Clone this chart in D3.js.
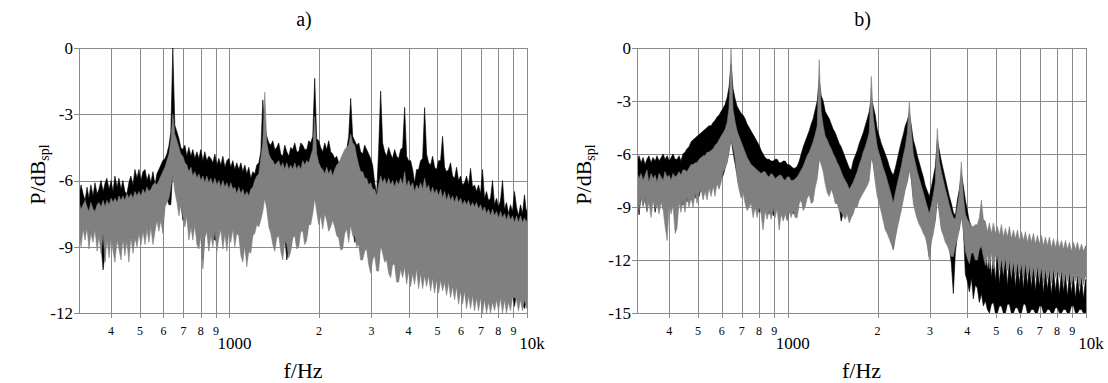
<!DOCTYPE html>
<html><head><meta charset="utf-8">
<script src="https://cdn.jsdelivr.net/npm/d3@7"></script>
<style>
body{margin:0;background:#fff}
svg{display:block}
text{font-family:"Liberation Serif","Times New Roman",serif;fill:#000}
</style>
</head><body>
<svg id="c" width="1108" height="383"></svg>
<script>
// ---- tick values / labels ----
const minorTicks = [400,500,600,700,800,900,2000,3000,4000,5000,6000,7000,8000,9000];
const minorLabels = ["4","5","6","7","8","9","2","3","4","5","6","7","8","9"];
const majorTicks = [1000,10000];
const majorLabels = ["1000","10k"];
const yTicksA = [0,-3,-6,-9,-12];
const yTicksB = [0,-3,-6,-9,-12,-15];

// ---- frequency samples (Hz), shared by both panels ----
const freqs = [
312,317,322,327,332,337,342,348,353,359,
364,370,376,382,387,394,400,406,412,419,
425,432,438,445,452,459,466,474,481,489,
496,504,512,520,528,536,544,553,562,570,
579,588,597,607,616,626,635,645,655,666,
676,686,697,708,719,730,742,753,765,777,
789,801,814,826,839,852,866,879,893,907,
921,935,950,965,980,995,1010,1026,1042,1058,
1075,1092,1109,1126,1143,1161,1179,1198,1216,1235,
1255,1274,1294,1314,1335,1356,1377,1398,1420,1442,
1464,1487,1510,1534,1558,1582,1607,1632,1657,1683,
1709,1736,1763,1790,1818,1847,1875,1905,1934,1964,
1995,2026,2058,2090,2122,2155,2189,2223,2258,2293,
2329,2365,2402,2439,2477,2516,2555,2595,2635,2676,
2718,2760,2803,2847,2891,2936,2982,3028,3076,3124,
3172,3222,3272,3323,3375,3427,3481,3535,3590,3646,
3703,3761,3819,3879,3939,4000,4063,4126,4190,4256,
4322,4389,4458,4527,4598,4669,4742,4816,4891,4967,
5045,5123,5203,5284,5366,5450,5535,5621,5709,5798,
5888,5980,6073,6168,6264,6361,6461,6561,6663,6767,
6873,6980,7088,7199,7311,7425,7541,7658,7777,7898,
8022,8147,8274,8403,8533,8666,8801,8938,9078,9219,
9363,9509,9657,9808,9960,10000
];

// ---- panel a: max / min envelope (dB) of the black and grey spectra ----
const blackMaxA = [
-6.7,-6.2,-6.6,-6.9,-6.3,-6.8,-6.2,-6.7,-6.1,-6.6,
-6.4,-6.0,-6.5,-6.1,-5.9,-6.4,-6.0,-6.5,-5.8,-6.3,
-5.9,-6.4,-6.0,-6.5,-6.6,-6.1,-5.8,-6.2,-5.5,-5.9,
-5.5,-6.0,-5.6,-5.5,-6.0,-5.7,-6.1,-5.6,-6.2,-5.7,
-5.5,-5.3,-5.1,-5.0,-4.8,-4.4,-3.8,0,-3.5,-3.8,
-4.1,-4.5,-4.6,-4.4,-4.9,-4.5,-4.9,-4.6,-5.0,-4.7,
-5.0,-4.6,-5.1,-4.7,-5.1,-4.9,-5.0,-5.2,-4.8,-5.3,
-5.0,-5.3,-4.9,-5.4,-5.1,-5.0,-5.4,-5.1,-5.5,-5.2,
-5.5,-5.2,-5.6,-5.3,-5.7,-5.4,-5.9,-5.6,-5.7,-5.3,
-5.2,-4.7,-2.35,-3.6,-4.0,-4.3,-4.4,-4.2,-4.6,-4.5,
-4.3,-4.8,-4.9,-4.4,-4.7,-4.9,-4.5,-4.6,-4.3,-4.7,
-4.7,-4.3,-4.4,-4.6,-4.6,-4.2,-4.3,-4.0,-1.37,-4.1,
-4.2,-4.5,-4.7,-4.3,-4.6,-4.2,-4.7,-4.8,-5.0,-4.9,
-5.2,-5.1,-5.0,-4.8,-4.6,-4.0,-2.28,-4.0,-4.2,-4.4,
-4.3,-4.7,-4.8,-4.4,-4.6,-4.8,-5.0,-5.3,-6.1,-6.6,
-4.6,-1.95,-4.3,-4.7,-4.9,-4.5,-4.8,-5.0,-4.6,-4.9,
-5.0,-4.6,-4.5,-2.69,-4.9,-5.1,-5.1,-5.5,-6.1,-5.5,
-5.5,-5.1,-5.0,-2.7,-4.8,-5.2,-5.3,-4.9,-5.4,-5.5,
-5.1,-5.1,-4.0,-5.4,-5.6,-5.5,-5.2,-5.8,-5.9,-5.4,
-6.0,-5.8,-6.2,-6.1,-5.8,-6.2,-5.45,-6.3,-6.2,-6.5,
-6.2,-6.6,-5.5,-6.8,-6.5,-6.9,-6.8,-6.0,-7.1,-6.8,
-7.2,-6.9,-6.0,-7.3,-7.0,-7.5,-7.1,-7.4,-6.5,-7.2,
-7.6,-7.1,-7.5,-6.65,-7.5,-7.3
];
const blackMinA = [
-8.2,-8.5,-8.0,-8.3,-8.0,-8.6,-8.2,-8.4,-8.0,-8.7,
-8.3,-8.9,-10.05,-9.2,-8.4,-9.0,-8.3,-8.8,-9.2,-8.5,
-8.7,-9.1,-8.4,-9.0,-8.5,-9.2,-8.3,-8.9,-8.4,-8.6,
-8.2,-8.5,-8.1,-8.4,-8.0,-8.3,-7.9,-8.5,-8.1,-7.6,
-8.0,-7.5,-8.1,-6.9,-6.8,-7.1,-7.1,-5.5,-6.2,-6.7,
-7.3,-7.0,-7.8,-7.7,-7.4,-8.3,-7.9,-8.2,-7.8,-8.5,
-8.7,-8.3,-9.6,-8.4,-8.1,-8.8,-8.3,-8.6,-8.7,-8.7,
-8.4,-8.0,-8.6,-8.2,-8.7,-8.1,-8.4,-8.0,-8.5,-8.2,
-8.3,-9.0,-9.3,-8.7,-9.6,-9.0,-8.9,-8.3,-8.0,-7.8,
-7.8,-7.5,-7.0,-6.6,-7.0,-7.8,-8.1,-8.6,-8.9,-8.3,
-8.3,-8.8,-9.3,-8.5,-9.6,-9.1,-9.0,-8.4,-8.1,-8.7,
-8.6,-8.1,-7.9,-8.5,-8.5,-7.8,-7.6,-7.2,-6.6,-7.1,
-7.6,-7.4,-7.8,-7.3,-7.4,-7.9,-7.9,-7.6,-7.7,-8.1,
-8.3,-8.8,-8.8,-8.1,-7.9,-8.5,-7.7,-8.2,-8.8,-8.7,
-8.6,-9.3,-9.3,-8.9,-8.8,-9.5,-9.9,-9.3,-9.1,-9.8,
-9.8,-8.6,-9.0,-9.4,-9.3,-9.9,-10.1,-9.5,-9.5,-10.3,
-10.3,-9.7,-10.1,-9.6,-10.4,-9.8,-10.5,-9.9,-10.4,-9.7,
-10.6,-9.9,-10.6,-10.0,-10.5,-10.0,-10.7,-10.1,-10.8,-10.2,
-10.8,-10.2,-10.7,-10.3,-10.9,-10.3,-11.0,-10.5,-11.1,-10.5,
-11.3,-10.7,-11.3,-10.7,-11.5,-10.9,-11.5,-10.9,-11.6,-11.0,
-11.6,-11.0,-11.7,-11.1,-11.7,-11.2,-11.7,-11.2,-11.6,-11.1,
-11.6,-11.0,-11.7,-11.1,-11.7,-11.2,-11.6,-11.0,-11.7,-11.1,
-11.6,-11.1,-11.6,-11.8,-11.5,-11.3
];
const greyMaxA = [
-7.0,-7.3,-7.1,-6.9,-7.2,-7.4,-7.0,-7.3,-7.4,-7.1,
-7.0,-7.2,-6.9,-7.2,-6.9,-7.1,-6.8,-7.0,-6.8,-7.0,
-6.7,-6.9,-6.7,-6.9,-6.6,-6.8,-6.6,-6.8,-6.5,-6.7,
-6.5,-6.7,-6.4,-6.6,-6.3,-6.5,-6.4,-6.2,-6.1,-6.2,
-6.0,-5.8,-5.6,-5.4,-5.1,-4.8,-4.2,-3.0,-3.9,-4.2,
-4.5,-4.8,-4.9,-5.2,-5.3,-5.6,-5.4,-5.8,-5.6,-5.9,
-5.7,-6.0,-5.8,-6.1,-5.8,-6.1,-5.9,-6.2,-5.9,-6.2,
-6.0,-6.3,-6.0,-6.3,-6.1,-6.4,-6.1,-6.4,-6.3,-6.6,
-6.3,-6.6,-6.4,-6.7,-6.5,-6.7,-6.4,-6.3,-6.0,-5.8,
-5.7,-5.0,-4.3,-2.0,-4.3,-4.8,-5.0,-5.1,-5.3,-5.2,
-5.1,-5.4,-5.2,-5.5,-5.2,-5.5,-5.3,-5.5,-5.2,-5.5,
-5.3,-5.5,-5.1,-5.3,-5.1,-5.2,-4.9,-4.6,-3.1,-4.8,
-5.2,-5.4,-5.5,-5.7,-5.4,-5.7,-5.5,-5.8,-5.5,-5.3,
-5.2,-5.0,-4.8,-4.6,-4.5,-4.4,-3.9,-4.3,-4.4,-4.9,
-5.3,-5.6,-5.6,-5.9,-5.9,-6.2,-6.1,-6.4,-6.4,-6.7,
-6.2,-5.8,-6.1,-5.9,-6.2,-5.9,-6.2,-6.0,-6.3,-6.0,
-6.2,-5.9,-6.2,-5.6,-6.3,-6.0,-6.3,-6.1,-6.5,-6.2,
-6.4,-6.1,-6.4,-5.9,-6.4,-6.2,-6.6,-6.3,-6.6,-6.4,
-6.7,-6.4,-6.8,-6.5,-6.9,-6.6,-6.9,-6.7,-7.0,-6.7,
-7.0,-6.8,-7.1,-6.9,-7.1,-6.9,-7.2,-7.0,-7.2,-7.0,
-7.3,-7.1,-7.4,-7.2,-7.5,-7.3,-7.6,-7.3,-7.6,-7.4,
-7.7,-7.4,-7.7,-7.5,-7.8,-7.5,-7.8,-7.6,-7.9,-7.6,
-7.9,-7.6,-7.9,-7.7,-7.9,-7.8
];
const greyMinA = [
-8.4,-9.0,-8.2,-8.7,-8.1,-9.1,-8.4,-8.8,-8.2,-9.2,
-8.5,-9.3,-8.4,-9.7,-8.6,-9.5,-8.5,-9.2,-9.7,-8.7,
-9.1,-9.6,-8.6,-9.4,-8.7,-9.7,-8.5,-9.3,-8.6,-9.0,
-8.4,-8.9,-8.3,-8.9,-8.2,-8.8,-8.1,-8.9,-8.3,-7.8,
-8.3,-7.8,-8.4,-7.2,-7.0,-6.8,-6.3,-5.7,-6.5,-7.0,
-7.6,-7.1,-7.6,-8.1,-7.6,-8.7,-8.1,-8.7,-8.0,-8.9,
-9.1,-8.5,-10.0,-8.6,-8.3,-9.2,-8.5,-9.0,-8.3,-9.2,
-8.6,-8.2,-9.1,-8.4,-9.2,-8.3,-8.8,-8.2,-9.0,-8.4,
-8.5,-9.4,-9.7,-8.9,-9.9,-9.2,-9.3,-8.5,-8.4,-8.0,
-8.1,-7.8,-7.4,-6.8,-7.3,-8.1,-8.4,-8.9,-9.2,-8.6,
-8.5,-9.2,-9.6,-8.7,-8.9,-9.5,-9.2,-8.6,-8.5,-9.1,
-9.0,-8.3,-8.3,-8.9,-8.7,-8.0,-8.0,-7.5,-6.8,-7.4,
-8.0,-7.6,-8.2,-7.5,-7.8,-8.3,-8.1,-7.8,-8.1,-8.5,
-8.6,-9.15,-9.1,-8.4,-8.2,-8.8,-8.0,-8.5,-8.5,-9.0,
-8.9,-9.6,-9.6,-9.2,-9.1,-9.8,-10.2,-9.6,-9.4,-10.1,
-10.1,-8.9,-9.3,-9.7,-9.6,-10.2,-10.4,-9.8,-9.8,-10.6,
-10.6,-10.0,-10.4,-9.9,-10.7,-10.1,-10.8,-10.2,-10.7,-10.0,
-10.9,-10.2,-10.9,-10.3,-10.8,-10.3,-11.0,-10.4,-11.1,-10.5,
-11.1,-10.5,-11.0,-10.6,-11.2,-10.6,-11.3,-10.8,-11.4,-10.8,
-11.6,-11.0,-11.6,-11.0,-11.8,-11.2,-11.8,-11.2,-11.9,-11.3,
-11.9,-11.3,-12.0,-11.4,-12.0,-11.5,-12.0,-11.5,-11.9,-11.4,
-11.9,-11.3,-12.0,-11.4,-12.0,-11.5,-11.9,-11.3,-11.3,-11.4,
-11.9,-11.4,-11.9,-11.4,-11.8,-11.6
];

// ---- panel b: max / min envelope (dB) of the black and grey spectra ----
const blackMaxB = [
-6.4,-6.1,-6.5,-6.2,-6.6,-6.3,-6.1,-6.5,-6.2,-6.4,
-6.1,-6.4,-6.2,-6.0,-6.3,-6.1,-6.4,-6.2,-6.0,-6.3,
-6.3,-6.1,-6.4,-6.0,-5.9,-5.7,-5.6,-5.3,-5.2,-5.1,
-5.0,-4.9,-4.8,-4.7,-4.6,-4.5,-4.4,-4.4,-4.2,-4.1,
-3.9,-3.8,-3.6,-3.4,-3.2,-2.8,-2.2,-0.9,-2.3,-2.9,
-3.3,-3.5,-3.7,-3.8,-4.0,-4.3,-4.5,-4.7,-4.9,-5.1,
-5.3,-5.5,-5.8,-6.0,-6.2,-6.3,-6.3,-6.4,-6.4,-6.3,
-6.3,-6.5,-6.5,-6.4,-6.4,-6.6,-6.6,-6.7,-6.8,-6.8,
-6.7,-6.4,-6.0,-5.6,-5.3,-5.0,-4.7,-4.3,-4.0,-3.5,
-3.0,-1.8,-2.7,-3.0,-3.6,-3.8,-4.0,-4.3,-4.6,-4.8,
-5.1,-5.4,-5.6,-5.9,-6.2,-6.5,-6.8,-6.9,-6.4,-6.1,
-5.8,-5.4,-5.1,-4.8,-4.4,-4.0,-3.6,-2.8,-3.3,-3.8,
-4.6,-5.0,-5.4,-5.7,-6.0,-6.3,-6.7,-7.0,-7.2,-6.8,
-6.3,-5.8,-5.3,-4.9,-4.4,-4.1,-3.7,-4.4,-5.2,-5.6,
-6.1,-6.5,-6.9,-7.3,-7.8,-8.1,-8.4,-7.9,-7.3,-6.7,
-5.2,-5.8,-6.4,-6.9,-7.4,-7.9,-8.4,-8.8,-9.3,-9.5,
-8.6,-8.0,-7.1,-7.8,-8.6,-9.2,-9.8,-10.1,-10.4,-10.6,
-10.8,-10.6,-10.5,-10.9,-11.6,-12.6,-11.4,-13.0,-11.8,-13.2,
-11.6,-13.4,-11.8,-13.0,-11.7,-13.5,-12.0,-13.2,-11.9,-13.6,
-12.0,-13.4,-12.1,-13.7,-11.9,-13.5,-12.3,-13.6,-12.2,-13.8,
-12.4,-13.5,-12.3,-13.9,-12.5,-13.7,-12.6,-14.0,-12.5,-13.8,
-12.7,-14.0,-12.6,-13.8,-12.8,-14.1,-12.7,-13.9,-12.9,-14.2,
-12.9,-14.0,-13.0,-14.2,-13.1,-13.4
];
const blackMinB = [
-8.4,-9.45,-8.3,-8.9,-8.5,-9.2,-8.4,-8.8,-8.3,-9.3,
-8.6,-9.0,-8.5,-9.1,-8.7,-9.5,-8.6,-9.0,-8.5,-8.9,
-8.4,-8.8,-8.5,-8.9,-8.3,-8.7,-8.2,-8.6,-8.1,-8.5,
-8.0,-8.4,-7.9,-8.3,-7.9,-8.2,-7.8,-8.1,-7.7,-8.0,
-7.6,-7.9,-7.4,-7.2,-6.8,-6.4,-5.8,-5.1,-5.9,-6.6,
-7.2,-7.8,-8.2,-7.9,-8.3,-8.6,-8.9,-8.5,-8.9,-9.1,
-8.8,-9.3,-8.9,-9.5,-9.2,-9.0,-9.4,-8.9,-9.5,-9.1,
-8.9,-9.6,-9.2,-9.5,-9.1,-9.7,-9.3,-9.0,-9.4,-9.1,
-9.3,-8.6,-8.5,-8.9,-8.6,-8.2,-8.1,-8.6,-8.3,-7.6,
-7.1,-6.2,-6.4,-6.8,-7.3,-7.8,-8.0,-7.6,-7.8,-8.3,
-8.5,-9.0,-9.8,-9.3,-9.4,-9.1,-9.6,-9.4,-9.1,-8.8,
-8.6,-8.2,-8.0,-7.8,-7.6,-7.4,-7.1,-6.1,-6.5,-7.3,
-8.1,-8.5,-9.0,-9.5,-10.0,-10.3,-10.5,-10.9,-11.4,-10.6,
-10.0,-9.4,-8.9,-8.4,-7.9,-7.5,-6.8,-7.4,-8.5,-9.0,
-9.5,-9.8,-10.0,-10.3,-10.5,-11.0,-11.8,-10.8,-10.2,-9.7,
-8.4,-9.2,-10.1,-10.5,-10.8,-11.0,-11.3,-12.2,-13.9,-11.6,
-10.6,-10.2,-9.4,-10.2,-12.8,-13.2,-13.8,-13.0,-14.2,-13.4,
-13.6,-14.4,-13.9,-14.6,-14.3,-14.8,-15.0,-14.5,-14.4,-15.0,
-15.0,-14.6,-14.6,-15.0,-15.0,-14.5,-14.5,-15.0,-15.0,-14.7,
-14.7,-15.0,-15.0,-14.5,-14.5,-15.0,-15.0,-14.8,-14.8,-15.0,
-15.0,-14.6,-14.6,-15.0,-15.0,-14.8,-14.8,-15.0,-15.0,-14.7,
-14.7,-15.0,-15.0,-14.8,-14.8,-15.0,-15.0,-14.6,-14.6,-15.0,
-15.0,-14.8,-14.8,-15.0,-15.0,-14.9
];
const greyMaxB = [
-7.0,-7.4,-7.1,-7.5,-7.2,-6.9,-7.6,-7.1,-7.4,-7.2,
-7.6,-7.1,-7.3,-7.5,-7.0,-7.3,-7.2,-7.5,-7.1,-7.3,
-7.2,-7.0,-7.2,-6.9,-6.9,-7.0,-6.8,-6.6,-6.6,-6.5,
-6.5,-6.3,-6.2,-6.1,-6.1,-5.9,-5.9,-5.8,-5.7,-5.5,
-5.4,-5.2,-5.0,-4.8,-4.6,-4.2,-3.4,0,-3.5,-4.2,
-4.7,-5.0,-5.3,-5.6,-5.9,-6.2,-6.4,-6.6,-6.7,-6.8,
-6.9,-7.0,-7.1,-7.0,-7.0,-7.2,-7.3,-7.1,-7.2,-7.4,
-7.3,-7.2,-7.2,-7.4,-7.5,-7.3,-7.3,-7.5,-7.5,-7.4,
-7.3,-7.1,-6.9,-6.7,-6.4,-6.1,-5.9,-5.6,-5.3,-4.9,
-4.4,-0.66,-3.6,-4.4,-5.0,-5.2,-5.5,-5.7,-6.0,-6.2,
-6.5,-6.7,-7.0,-7.3,-7.5,-7.7,-8.0,-7.8,-7.6,-7.3,
-7.0,-6.6,-6.3,-5.9,-5.6,-5.2,-4.8,-1.6,-3.9,-4.8,
-5.6,-6.0,-6.4,-6.8,-7.1,-7.5,-7.9,-8.3,-8.8,-8.2,
-7.7,-7.2,-6.7,-6.1,-5.6,-4.8,-3.05,-4.7,-6.0,-6.5,
-7.0,-7.4,-7.8,-8.2,-8.6,-9.0,-9.4,-8.9,-8.3,-7.6,
-4.56,-6.4,-7.0,-7.5,-8.0,-8.4,-8.9,-9.3,-9.6,-9.7,
-9.0,-8.2,-6.44,-8.4,-9.4,-9.7,-9.9,-10.1,-10.1,-10.0,
-10.0,-9.6,-8.6,-9.7,-9.8,-10.4,-9.9,-10.5,-9.9,-10.5,
-10.1,-10.6,-10.0,-10.7,-10.2,-10.7,-10.1,-10.8,-10.3,-10.8,
-10.3,-10.9,-10.4,-10.9,-10.4,-11.0,-10.5,-11.0,-10.5,-11.1,
-10.6,-11.1,-10.6,-11.2,-10.7,-11.2,-10.7,-11.3,-10.8,-11.3,
-10.8,-11.3,-10.9,-11.4,-10.9,-11.4,-11.0,-11.5,-11.0,-11.4,
-11.0,-11.5,-11.1,-11.5,-11.2,-11.2
];
const greyMinB = [
-8.6,-9.2,-8.4,-9.0,-8.5,-9.3,-8.7,-9.6,-8.6,-9.1,
-8.8,-9.4,-8.7,-9.2,-10.0,-10.9,-8.8,-9.4,-8.9,-10.5,
-10.2,-8.7,-9.3,-8.6,-9.3,-8.4,-9.0,-8.5,-9.0,-8.2,
-8.8,-8.2,-8.0,-8.6,-8.1,-8.6,-7.9,-8.4,-7.8,-8.4,
-7.6,-8.0,-7.6,-7.0,-6.8,-6.5,-5.9,-5.2,-5.6,-6.3,
-7.4,-8.0,-8.5,-8.2,-8.8,-9.2,-9.0,-8.8,-9.6,-9.0,
-9.6,-9.0,-9.4,-10.3,-9.2,-9.7,-9.2,-9.7,-9.1,-9.6,
-9.1,-10.3,-9.4,-9.8,-9.4,-9.8,-9.2,-9.6,-9.2,-9.6,
-9.6,-8.8,-8.6,-9.2,-9.0,-8.5,-8.3,-8.8,-8.7,-7.9,
-7.4,-6.3,-6.6,-7.0,-7.7,-8.2,-8.4,-8.0,-8.3,-8.8,
-8.8,-9.2,-9.3,-9.5,-9.7,-9.4,-9.9,-9.6,-9.4,-9.0,
-9.0,-8.6,-8.4,-8.2,-8.0,-7.8,-7.5,-6.2,-6.6,-7.6,
-8.4,-8.8,-9.3,-9.8,-10.3,-10.5,-10.8,-11.1,-11.4,-10.8,
-10.2,-9.7,-9.2,-8.6,-8.0,-7.6,-6.9,-7.4,-8.8,-9.3,
-9.7,-10.0,-10.2,-10.5,-10.7,-11.2,-12.0,-11.0,-10.5,-9.8,
-8.5,-9.4,-10.3,-10.6,-11.0,-11.2,-11.5,-11.8,-11.8,-11.2,
-10.8,-10.3,-9.5,-10.4,-11.5,-11.9,-12.2,-11.6,-11.6,-12.0,
-12.0,-11.4,-11.2,-11.8,-12.3,-11.7,-12.5,-11.6,-12.5,-11.8,
-11.8,-12.6,-11.9,-12.7,-11.9,-12.6,-12.0,-12.8,-12.1,-12.9,
-12.1,-12.8,-12.2,-13.0,-12.2,-12.9,-12.3,-13.1,-12.4,-13.0,
-12.3,-13.1,-12.4,-13.3,-12.5,-13.1,-12.5,-13.3,-12.5,-13.0,
-12.6,-13.0,-12.6,-13.4,-12.7,-13.2,-12.7,-13.4,-12.8,-13.2,
-12.8,-13.5,-12.9,-13.4,-12.9,-13.0
];

function rows(hi, lo) {
  const n = Math.min(freqs.length, hi.length, lo.length);
  return d3.range(n).map(k => [freqs[k], hi[k], lo[k]]);
}

const panels = [
  {title:"a)", x0:79, x1:527, yMin:-12, yTicks:yTicksA,
   black:rows(blackMaxA, blackMinA), grey:rows(greyMaxA, greyMinA), ylabX:45},
  {title:"b)", x0:637, x1:1086, yMin:-15, yTicks:yTicksB,
   black:rows(blackMaxB, blackMinB), grey:rows(greyMaxB, greyMinB), ylabX:591}
];
const TOP = 48, BOTTOM = 313;
const GRID = "#8a8a8a";
const svg = d3.select("#c");

panels.forEach((p, i) => {
  const x = d3.scaleLog().domain([312, 10000]).range([p.x0, p.x1]);
  const y = d3.scaleLinear().domain([p.yMin, 0]).range([BOTTOM, TOP]);
  const g = svg.append("g");

  const allX = minorTicks.concat(majorTicks);
  g.selectAll("line.vx").data(allX).join("line")
    .attr("x1", d => Math.round(x(d)) + 0.5).attr("x2", d => Math.round(x(d)) + 0.5)
    .attr("y1", TOP).attr("y2", BOTTOM + 5)
    .attr("stroke", GRID).attr("stroke-width", 1);
  g.selectAll("line.hy").data(p.yTicks).join("line")
    .attr("x1", p.x0 - 5).attr("x2", p.x1)
    .attr("y1", d => Math.round(y(d)) + 0.5).attr("y2", d => Math.round(y(d)) + 0.5)
    .attr("stroke", GRID).attr("stroke-width", 1);

  const clipId = "clip" + i;
  svg.append("clipPath").attr("id", clipId).append("rect")
    .attr("x", p.x0).attr("y", TOP - 1).attr("width", p.x1 - p.x0).attr("height", BOTTOM - TOP + 1);
  const area = d3.area().x(d => x(d[0])).y0(d => y(d[2])).y1(d => y(d[1]));
  const dg = g.append("g").attr("clip-path", `url(#${clipId})`);
  dg.append("path").datum(p.black).attr("d", area)
    .attr("fill", "#000").attr("stroke", "#000").attr("stroke-width", 0.6);
  dg.append("path").datum(p.grey).attr("d", area)
    .attr("fill", "#808080").attr("stroke", "#808080").attr("stroke-width", 0.6);

  g.append("line").attr("x1", p.x0 + 0.5).attr("x2", p.x0 + 0.5).attr("y1", TOP).attr("y2", BOTTOM + 0.5)
    .attr("stroke", GRID);
  g.append("line").attr("x1", p.x0).attr("x2", p.x1).attr("y1", BOTTOM + 0.5).attr("y2", BOTTOM + 0.5)
    .attr("stroke", GRID);

  g.selectAll("text.yl").data(p.yTicks).join("text")
    .attr("x", p.x0 - 6).attr("y", d => y(d)).attr("dy", "0.35em")
    .attr("text-anchor", "end").attr("font-size", 17).text(d => d);

  g.selectAll("text.xm").data(minorTicks).join("text")
    .attr("x", d => x(d)).attr("y", 335).attr("text-anchor", "middle")
    .attr("font-size", 12).text((d, k) => minorLabels[k]);
  g.selectAll("text.xM").data(majorTicks).join("text")
    .attr("x", d => x(d) + 5).attr("y", 349).attr("text-anchor", "middle")
    .attr("font-size", 17).text((d, k) => majorLabels[k]);

  const cx = (p.x0 + p.x1) / 2;
  g.append("text").attr("x", cx + 1).attr("y", 26).attr("text-anchor", "middle")
    .attr("font-size", 20).text(p.title);
  g.append("text").attr("x", cx).attr("y", 378).attr("text-anchor", "middle")
    .attr("font-size", 22).text("f/Hz");
  const yl = g.append("text").attr("transform", `translate(${p.ylabX},${(TOP + BOTTOM) / 2 - 6}) rotate(-90)`)
    .attr("text-anchor", "middle").attr("font-size", 22);
  yl.append("tspan").text("P/dB");
  yl.append("tspan").attr("font-size", 14).attr("dy", 4).text("spl");
});
</script>
</body></html>
